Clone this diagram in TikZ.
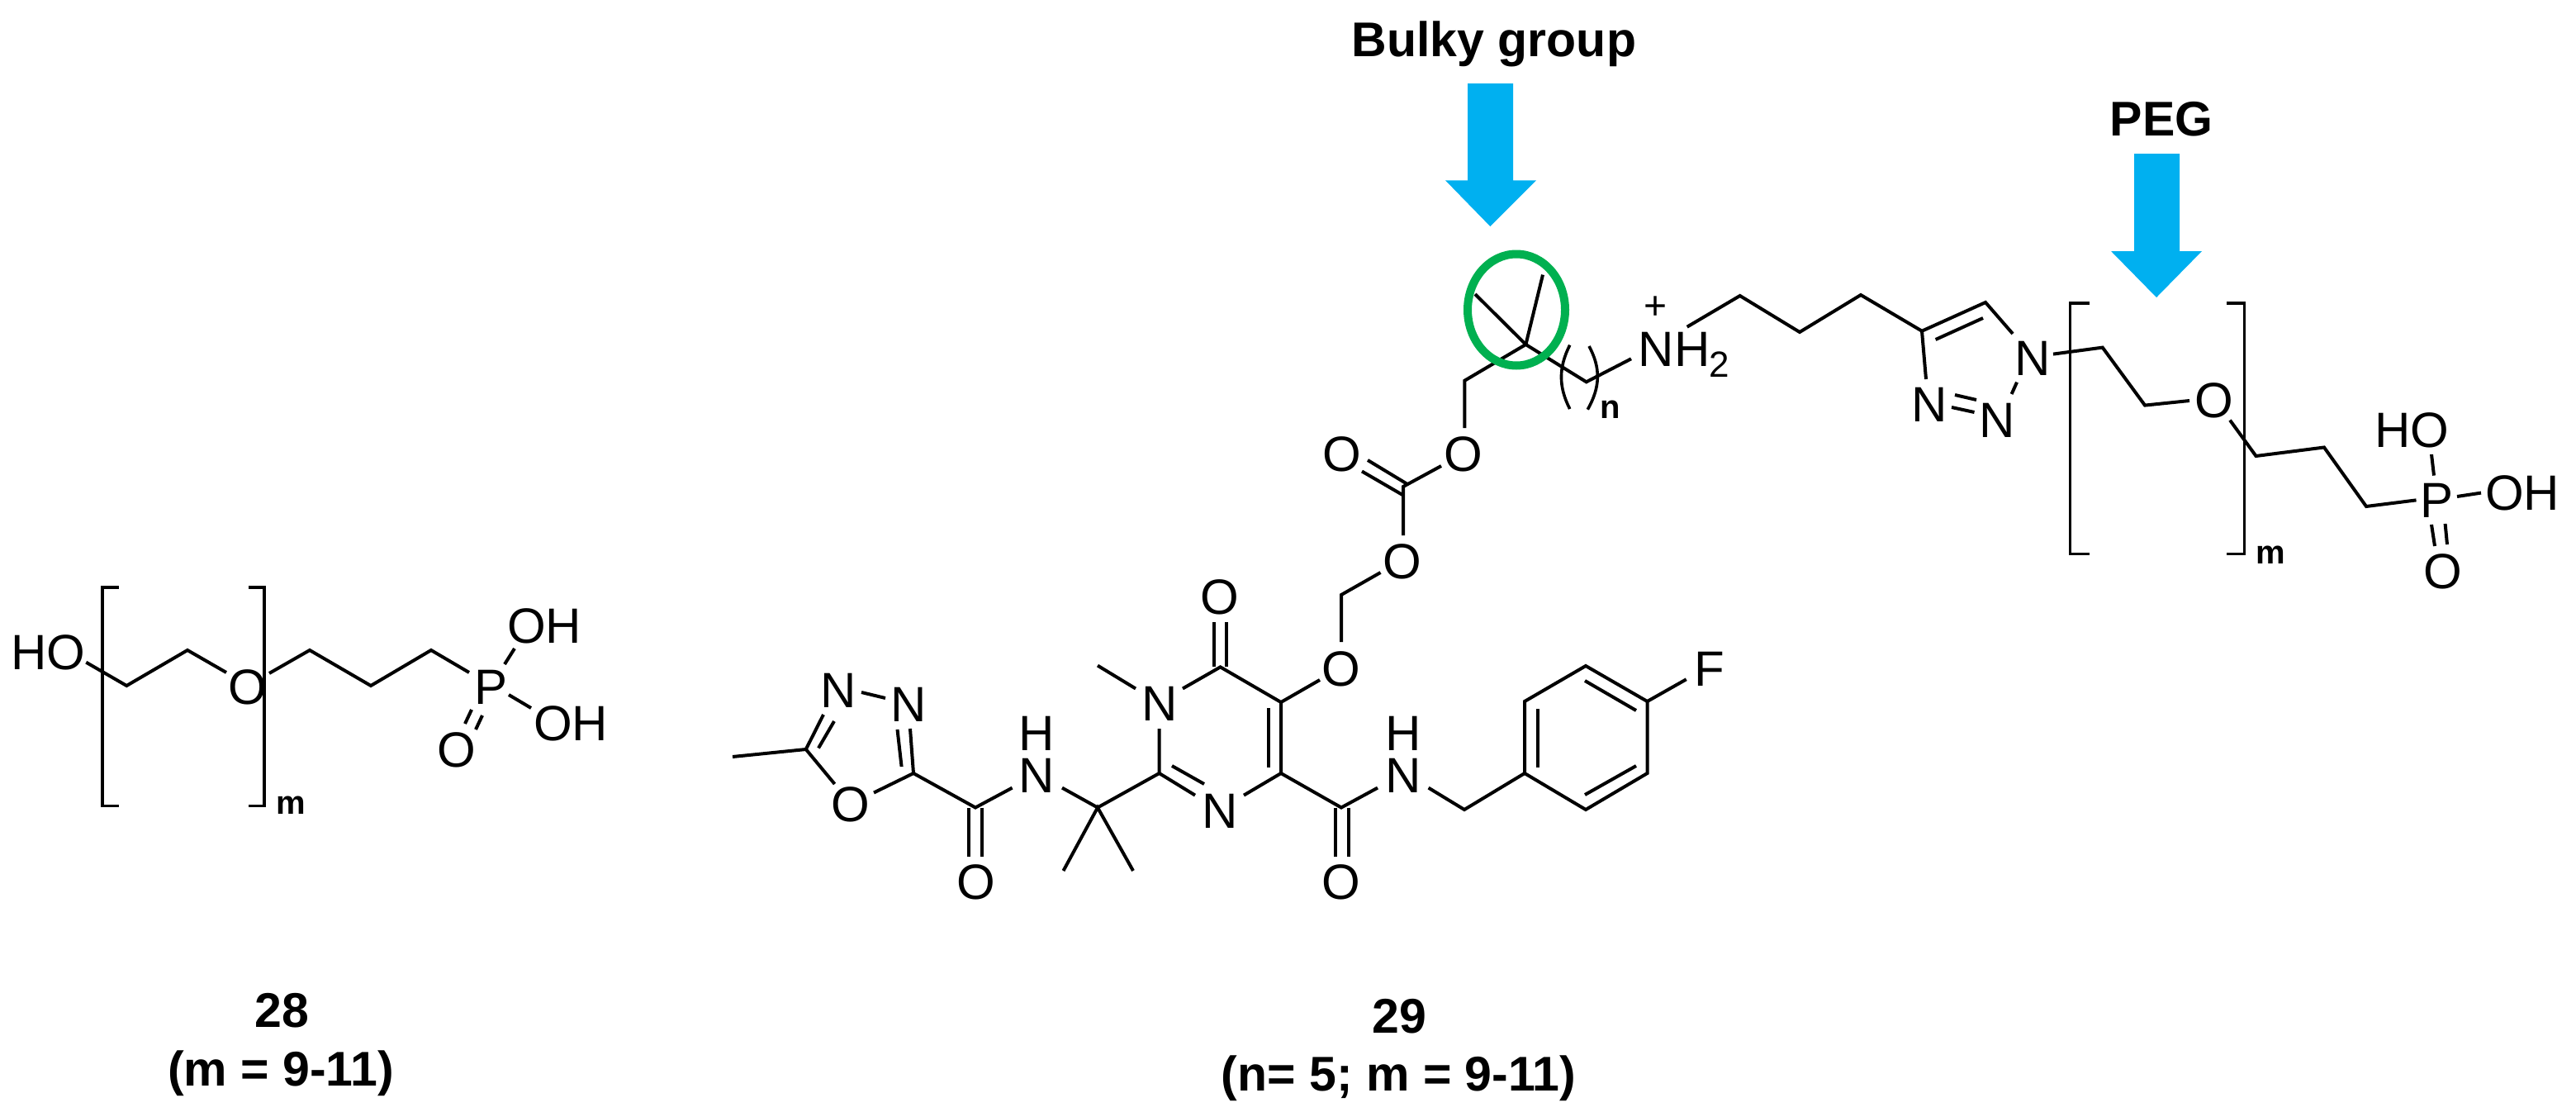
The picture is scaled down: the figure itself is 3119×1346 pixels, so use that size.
\documentclass[tikz,border=0pt]{standalone}
\usepackage{fontspec}
\setmainfont{Liberation Sans}
\definecolor{arrowblue}{HTML}{00B0F0}
\definecolor{ringgreen}{HTML}{00B050}
\tikzset{
  bond/.style={line width=4pt,black,line join=miter,line cap=butt},
  bracket/.style={line width=3.9pt,black,line join=miter,line cap=butt},
  curl/.style={line width=3.6pt,black},
  atom/.style={inner sep=0pt,outer sep=0pt,font=\fontsize{60}{62}\selectfont},
  sub/.style={inner sep=0pt,outer sep=0pt,font=\fontsize{44}{46}\selectfont},
  charge/.style={inner sep=0pt,outer sep=0pt,font=\fontsize{48}{50}\selectfont},
  idx/.style={inner sep=0pt,outer sep=0pt,font=\bfseries\fontsize{40}{42}\selectfont},
  label/.style={inner sep=0pt,outer sep=0pt,anchor=base,font=\bfseries\fontsize{59}{61}\selectfont},
  pointer/.style={fill=arrowblue,draw=none},
  halo/.style={draw=ringgreen,line width=10pt}
}
\begin{document}
\begin{tikzpicture}[x=1pt,y=-1pt]
\useasboundingbox (0,0) rectangle (3119,1346);
% ---- compound 28
\node[atom] (a1) at (58.5,790) {HO};
\node[atom] (a2) at (300,832) {O};
\node[atom] (a3) at (595,832) {P};
\node[atom] (a4) at (659,758) {OH};
\node[atom] (a5) at (691,876) {OH};
\node[atom] (a6) at (553,908) {O};
\node[idx] (a7) at (352,975) {m};
\node[label] (a8) at (341.5,1243) {28};
\node[label] (a9) at (340,1314) {(m = 9-11)};
\draw[bond] (104.3,801.7) -- (153.3,830) -- (227,787) -- (274,814);
\draw[bond] (326,815) -- (375,787) -- (449,830) -- (522,787) -- (568,814);
\draw[bond] (611,804) -- (623,785);
\draw[bond] (616,841) -- (643,857);
\draw[bond] (584,866) -- (576,883);
\draw[bond] (571,859) -- (563,876);
\draw[bracket] (143.5,711) -- (124,711) -- (124,975.5) -- (143.5,975.5);
\draw[bracket] (301,711) -- (320,711) -- (320,975.5) -- (301,975.5);
% ---- compound 29: oxadiazole
\node[atom] (b1) at (1015,836) {N};
\node[atom] (b2) at (1100.5,853) {N};
\node[atom] (b3) at (1030,974) {O};
\node[atom] (b4) at (1181.5,1067.5) {O};
\node[atom] (b5) at (1255.6,939) {N};
\node[atom] (b6) at (1255.6,888) {H};
\node[atom] (b7) at (1404,852) {N};
\node[atom] (b8) at (1477,723) {O};
\node[atom] (b9) at (1477.6,982) {N};
\node[atom] (b10) at (1624,810) {O};
\node[atom] (b11) at (1698,680) {O};
\node[atom] (b12) at (1624,1067.5) {O};
\node[atom] (b13) at (1699,939) {N};
\node[atom] (b14) at (1699,888) {H};
\node[atom] (b15) at (2069.5,809.5) {F};
\draw[bond] (887,916) -- (975.8,907) -- (997,865);
\draw[bond] (991,905.5) -- (1010,873);
\draw[bond] (1043,838) -- (1072,845);
\draw[bond] (1102,882) -- (1106,936) -- (1181,977.5) -- (1225.6,953.6);
\draw[bond] (1086.5,883) -- (1091.6,928);
\draw[bond] (1106,936) -- (1058,959.5);
\draw[bond] (1010.6,949) -- (975.8,907);
\draw[bond] (1173,977.5) -- (1173,1037);
\draw[bond] (1189,977.5) -- (1189,1037);
\draw[bond] (1286,953.6) -- (1329,977.5) -- (1403.6,936) -- (1403.6,882);
\draw[bond] (1287.5,1054) -- (1329,977.5) -- (1372,1054);
\draw[bond] (1329,805.6) -- (1375,833.5);
\draw[bond] (1432,833.5) -- (1477.6,807.4) -- (1551,850) -- (1551,936) -- (1506,962.6);
\draw[bond] (1470,807) -- (1470,752.5);
\draw[bond] (1485,807) -- (1485,752.5);
\draw[bond] (1551,850) -- (1598,823);
\draw[bond] (1624,777) -- (1624,720) -- (1671.5,693);
\draw[bond] (1536,857) -- (1536,929);
\draw[bond] (1403.6,936) -- (1447,962.6);
\draw[bond] (1419,927) -- (1458,949);
\draw[bond] (1551,936) -- (1624,977.5) -- (1668,953.6);
\draw[bond] (1617,977.5) -- (1617,1037);
\draw[bond] (1633,977.5) -- (1633,1037);
\draw[bond] (1729.6,953.6) -- (1773,980) -- (1846,936);
% phenyl
\draw[bond] (1846,936) -- (1846,849) -- (1920,806) -- (1994.5,849) -- (1994.5,936) -- (1920,980) -- cycle;
\draw[bond] (1862,858) -- (1862,929);
\draw[bond] (1919,824) -- (1981,860);
\draw[bond] (1919,962) -- (1981,927);
\draw[bond] (1994.5,849) -- (2041.7,822.3);
% carbonate
\node[atom] (c1) at (1772,550) {O};
\node[atom] (c2) at (1625,550) {O};
\draw[bond] (1699,648) -- (1699,589) -- (1745,564);
\draw[bond] (1649,570.5) -- (1699,599.5);
\draw[bond] (1656,557) -- (1704,586);
\draw[bond] (1773.4,518) -- (1773.4,460.7) -- (1847.4,417) -- (1920.7,462.3) -- (1975,434.3);
\draw[bond] (1847.4,417) -- (1786,356);
\draw[bond] (1847.4,417) -- (1868,332.6);
\draw[curl] (1900.7,417.7) .. controls (1887,445) and (1887,468) .. (1900.7,495);
\draw[curl] (1924,419) .. controls (1938,445) and (1938,468) .. (1922.3,495.7);
\node[idx] (c3) at (1950,496) {n};
\node[atom,anchor=base west] (c4) at (1983.7,443.3) {NH};
\node[sub,anchor=base west] (c5) at (2069,456.7) {2};
\node[charge] (c6) at (2004.3,372.3) {+};
\draw[bond] (2042.7,395.7) -- (2106.7,358) -- (2179,402) -- (2253,357) -- (2327,400.7) -- (2404,366) -- (2437,404);
\draw[bond] (2343.6,411) -- (2401,385);
\draw[bond] (2327,400.7) -- (2332,459);
% triazole and PEG
\node[atom] (d1) at (2461,434) {N};
\node[atom] (d2) at (2336,490) {N};
\node[atom] (d3) at (2418.6,508.6) {N};
\node[atom] (d4) at (2680.5,485) {O};
\node[atom] (d5) at (2950,606) {P};
\node[atom] (d6) at (2920,520.5) {HO};
\node[atom] (d7) at (3054,597) {OH};
\node[atom] (d8) at (2958,691.5) {O};
\node[idx] (d9) at (2749,671.6) {m};
\draw[bond] (2442,462.7) -- (2435.6,477);
\draw[bond] (2367,478) -- (2393,484);
\draw[bond] (2363,493) -- (2390.5,499);
\draw[bond] (2486,428.6) -- (2545.7,420.6) -- (2597,490.6) -- (2651,485);
\draw[bond] (2700,508.6) -- (2731.5,552) -- (2814,541.5) -- (2865,613) -- (2925.5,605.4);
\draw[bond] (2944,550) -- (2947,575.6);
\draw[bond] (2975,601) -- (3004,596.6);
\draw[bond] (2944,635) -- (2948,661);
\draw[bond] (2960.6,634) -- (2963,659);
\draw[bracket] (2530,367) -- (2506.5,367) -- (2506.5,670.5) -- (2530,670.5);
\draw[bracket] (2696,367) -- (2717.5,367) -- (2717.5,670.5) -- (2696,670.5);
% ---- annotations
\node[label] (e1) at (1809,69) {Bulky group};
\node[label] (e2) at (2617,164) {PEG};
\node[label] (e3) at (1694.5,1250) {29};
\node[label] (e4) at (1693.6,1320.7) {(n= 5; m = 9-11)};
\fill[pointer] (1777,101) -- (1832,101) -- (1832,218.3) -- (1860,218.3) -- (1804.3,274) -- (1750,218.3) -- (1777,218.3) -- cycle;
\fill[pointer] (2584,186) -- (2639,186) -- (2639,304) -- (2666,304) -- (2611,360) -- (2556,304) -- (2584,304) -- cycle;
\draw[halo] (1836,375) ellipse [x radius=59,y radius=67.5];
\end{tikzpicture}
\end{document}
